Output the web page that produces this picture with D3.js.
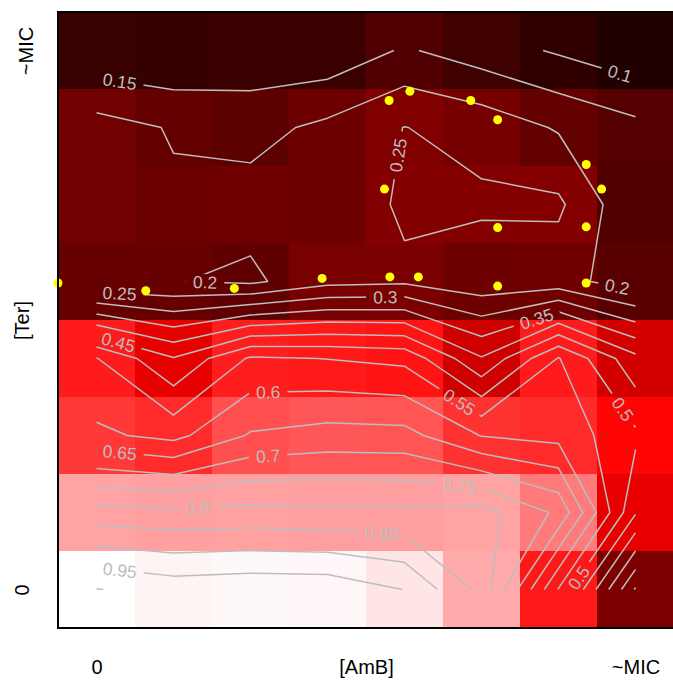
<!DOCTYPE html>
<html>
<head>
<meta charset="utf-8">
<script src="https://cdn.jsdelivr.net/npm/d3@7"></script>
<style>
  body { margin: 0; background: #ffffff; }
  svg { display: block; }
</style>
</head>
<body>
<svg id="chart" width="673" height="681"></svg>
<script>
// ---------------- data ----------------
// column index = AmB concentration step, row index = Ter concentration step
const ambSteps = [0, 1, 2, 3, 4, 5, 6, 7];
const terSteps = [0, 1, 2, 3, 4, 5, 6, 7];

// tick labels
const xTickValues = [0, 3.5, 7];
const xTickLabels = ["0", "[AmB]", "~MIC"];
const yTickValues = [0, 3.5, 7];
const yTickLabels = ["0", "[Ter]", "~MIC"];

// relative growth, one row per Ter step (Ter = 0 first, Ter ~MIC last),
// one value per AmB step
const terRow0 = [1.002, 0.979, 0.986, 0.984, 0.949, 0.835, 0.547, 0.245];
const terRow1 = [0.820, 0.812, 0.816, 0.810, 0.810, 0.820, 0.740, 0.455];
const terRow2 = [0.610, 0.585, 0.655, 0.670, 0.667, 0.598, 0.584, 0.510];
const terRow3 = [0.552, 0.453, 0.557, 0.549, 0.537, 0.404, 0.553, 0.414];
const terRow4 = [0.202, 0.202, 0.190, 0.235, 0.241, 0.215, 0.219, 0.173];
const terRow5 = [0.225, 0.208, 0.220, 0.215, 0.258, 0.259, 0.259, 0.157];
const terRow6 = [0.221, 0.196, 0.183, 0.212, 0.251, 0.232, 0.195, 0.164];
const terRow7 = [0.111, 0.102, 0.114, 0.113, 0.156, 0.124, 0.094, 0.064];
const growth = [terRow0, terRow1, terRow2, terRow3, terRow4, terRow5, terRow6, terRow7];

// contour levels
const contourLevels = [0.1, 0.15, 0.2, 0.25, 0.3, 0.35, 0.4, 0.45, 0.5,
                       0.55, 0.6, 0.65, 0.7, 0.75, 0.8, 0.85, 0.9, 0.95, 1.0];

// contour labels: level and approximate spot (in AmB / Ter step units)
const labelLevels = [0.1, 0.15, 0.2, 0.2, 0.25, 0.25, 0.3, 0.35, 0.45, 0.5, 0.55,
                     0.6, 0.65, 0.7, 0.75, 0.8, 0.85, 0.95, 0.5];
const labelAmB    = [6.80, 0.30, 6.76, 1.41, 3.92, 0.30, 3.75, 5.72, 0.28, 6.82, 4.69,
                     2.23, 0.30, 2.23, 4.72, 1.32, 3.71, 0.30, 6.25];
const labelTer    = [6.71, 6.59, 3.92, 3.98, 5.64, 3.85, 3.79, 3.50, 3.20, 2.33, 2.40,
                     2.56, 1.76, 1.72, 1.33, 1.06, 0.75, 0.23, 0.16];

// yellow observation points (AmB / Ter step units)
const pointAmB = [-0.50, 0.64, 1.79, 2.93, 4.07, 3.80, 4.86, 5.21, 3.74,
                  5.21, 6.36, 6.56, 6.36, 3.81, 4.18, 5.21, 6.36];
const pointTer = [3.98, 3.88, 3.91, 4.04, 6.47, 6.35, 6.35, 6.10, 5.20,
                  4.70, 5.52, 5.20, 4.71, 4.06, 4.06, 3.94, 3.98];

// ---------------- scales ----------------
const svg = d3.select("#chart");
const W = 673, H = 681;
const x = d3.scaleLinear().domain([-0.5, 7.5]).range([58, 674]);
const y = d3.scaleLinear().domain([-0.5, 7.5]).range([628, 12]);
const color = d3.scaleLinear().domain([0, 0.5, 1])
  .range(["#000000", "#ff0000", "#ffffff"]).clamp(true);

const FONT = "'Liberation Sans', Arial, Helvetica, sans-serif";
const LINE_COL = "#bdbdbd";

// ---------------- heatmap ----------------
const cells = [];
terSteps.forEach((t, r) => ambSteps.forEach((a, c) => cells.push({a, t, v: growth[r][c]})));
svg.append("g").selectAll("rect").data(cells).join("rect")
  .attr("x", d => x(d.a - 0.5))
  .attr("y", d => y(d.t + 0.5))
  .attr("width", d => x(d.a + 0.5) - x(d.a - 0.5))
  .attr("height", d => y(d.t - 0.5) - y(d.t + 0.5))
  .attr("fill", d => color(d.v))
  .attr("shape-rendering", "crispEdges");

// ---------------- contour lines (marching squares on cell centres) -------
function contourLines(z, level) {
  const nr = z.length, nc = z[0].length;
  const segs = [];
  const A = v => v >= level;
  for (let r = 0; r < nr - 1; r++) {
    for (let c = 0; c < nc - 1; c++) {
      const bl = z[r][c], br = z[r][c + 1], tr = z[r + 1][c + 1], tl = z[r + 1][c];
      const E = {};
      if (A(bl) !== A(br)) E.b = {k: "H" + r + "," + c, p: [ambSteps[c] + (level - bl) / (br - bl), terSteps[r]]};
      if (A(br) !== A(tr)) E.r = {k: "V" + r + "," + (c + 1), p: [ambSteps[c + 1], terSteps[r] + (level - br) / (tr - br)]};
      if (A(tl) !== A(tr)) E.t = {k: "H" + (r + 1) + "," + c, p: [ambSteps[c] + (level - tl) / (tr - tl), terSteps[r + 1]]};
      if (A(bl) !== A(tl)) E.l = {k: "V" + r + "," + c, p: [ambSteps[c], terSteps[r] + (level - bl) / (tl - bl)]};
      const ks = Object.keys(E);
      if (ks.length === 2) segs.push([E[ks[0]], E[ks[1]]]);
      else if (ks.length === 4) {
        const centre = A((bl + br + tr + tl) / 4);
        if (centre === A(br)) { segs.push([E.l, E.b]); segs.push([E.t, E.r]); }
        else { segs.push([E.b, E.r]); segs.push([E.t, E.l]); }
      }
    }
  }
  const byKey = new Map();
  segs.forEach((s, i) => s.forEach(e => {
    if (!byKey.has(e.k)) byKey.set(e.k, []);
    byKey.get(e.k).push(i);
  }));
  const used = new Array(segs.length).fill(false);
  const lines = [];
  function walk(si, from) {
    const pts = [segs[si][from].p];
    for (;;) {
      used[si] = true;
      const to = segs[si][1 - from];
      pts.push(to.p);
      const nxt = (byKey.get(to.k) || []).find(j => !used[j]);
      if (nxt === undefined) break;
      si = nxt;
      from = segs[si][0].k === to.k ? 0 : 1;
    }
    return pts;
  }
  segs.forEach((s, i) => {
    for (let e = 0; e < 2; e++) {
      if (!used[i] && byKey.get(s[e].k).length === 1) lines.push(walk(i, e));
    }
  });
  segs.forEach((s, i) => { if (!used[i]) lines.push(walk(i, 0)); });
  return lines;
}

function cumLengths(pl) {
  const cum = [0];
  for (let i = 1; i < pl.length; i++)
    cum.push(cum[i - 1] + Math.hypot(pl[i][0] - pl[i - 1][0], pl[i][1] - pl[i - 1][1]));
  return cum;
}
function pointAt(pl, cum, s) {
  s = Math.max(0, Math.min(cum[cum.length - 1], s));
  for (let i = 1; i < pl.length; i++) {
    if (s <= cum[i] || i === pl.length - 1) {
      const L = cum[i] - cum[i - 1];
      const t = L > 0 ? (s - cum[i - 1]) / L : 0;
      return [pl[i - 1][0] + t * (pl[i][0] - pl[i - 1][0]), pl[i - 1][1] + t * (pl[i][1] - pl[i - 1][1])];
    }
  }
  return pl[pl.length - 1];
}
function locate(lines, px, py) {
  let best = null;
  lines.forEach(pl => {
    const cum = cumLengths(pl);
    for (let i = 1; i < pl.length; i++) {
      const [x0, y0] = pl[i - 1], [x1, y1] = pl[i];
      const dx = x1 - x0, dy = y1 - y0, L2 = dx * dx + dy * dy;
      let t = L2 > 0 ? ((px - x0) * dx + (py - y0) * dy) / L2 : 0;
      t = Math.max(0, Math.min(1, t));
      const d = Math.hypot(px - (x0 + t * dx), py - (y0 + t * dy));
      if (!best || d < best.d) best = {d, pl, cum, s: cum[i - 1] + t * (cum[i] - cum[i - 1])};
    }
  });
  return best;
}

const defs = svg.append("defs");
const contourG = svg.append("g");
const labelG = svg.append("g");
const line = d3.line();
const FS = 17.5;

contourLevels.forEach((level, li) => {
  const lines = contourLines(growth, level)
    .map(pl => pl.map(([a, t]) => [x(a), y(t)]));
  if (!lines.length) return;
  const path = contourG.append("g");
  lines.forEach(pl => path.append("path")
    .attr("d", line(pl))
    .attr("fill", "none")
    .attr("stroke", LINE_COL)
    .attr("stroke-width", 1.5)
    .attr("stroke-linejoin", "round"));

  const idx = labelLevels.map((l, i) => Math.abs(l - level) < 1e-9 ? i : -1).filter(i => i >= 0);
  if (!idx.length) return;
  const mask = defs.append("mask").attr("id", "m" + li)
    .attr("maskUnits", "userSpaceOnUse")
    .attr("x", 0).attr("y", 0).attr("width", W).attr("height", H);
  mask.append("rect").attr("width", W).attr("height", H).attr("fill", "#fff");
  path.attr("mask", "url(#m" + li + ")");

  idx.forEach(i => {
    const txt = String(+level.toFixed(2));
    const tEl = labelG.append("text")
      .attr("font-family", FONT).attr("font-size", FS)
      .attr("fill", LINE_COL).attr("text-anchor", "middle")
      .attr("dy", "0.36em").text(txt);
    const w = tEl.node().getComputedTextLength();
    const loc = locate(lines, x(labelAmB[i]), y(labelTer[i]));
    const p1 = pointAt(loc.pl, loc.cum, loc.s - w / 2);
    const p2 = pointAt(loc.pl, loc.cum, loc.s + w / 2);
    let ang = Math.atan2(p2[1] - p1[1], p2[0] - p1[0]) * 180 / Math.PI;
    if (ang > 90) ang -= 180;
    if (ang <= -90) ang += 180;
    const cx = (p1[0] + p2[0]) / 2, cy = (p1[1] + p2[1]) / 2;
    tEl.attr("transform", `translate(${cx},${cy}) rotate(${ang})`);
    mask.append("rect")
      .attr("x", -w / 2 - 7).attr("y", -8).attr("width", w + 14).attr("height", 16)
      .attr("fill", "#000")
      .attr("transform", `translate(${cx},${cy}) rotate(${ang})`);
  });
});

// ---------------- points ----------------
svg.append("g").selectAll("circle").data(pointAmB.map((a, i) => [a, pointTer[i]])).join("circle")
  .attr("cx", d => x(d[0])).attr("cy", d => y(d[1])).attr("r", 4.5)
  .attr("fill", "#ffff00");

// ---------------- frame ----------------
svg.append("rect").attr("x", 58).attr("y", 12).attr("width", 616).attr("height", 616)
  .attr("fill", "none").attr("stroke", "#000").attr("stroke-width", 2);

// ---------------- axes ----------------
const xAxis = svg.append("g").attr("transform", "translate(0,628)")
  .call(d3.axisBottom(x).tickValues(xTickValues)
    .tickFormat((d, i) => xTickLabels[i]).tickSize(0).tickPadding(32));
xAxis.select(".domain").remove();
xAxis.selectAll("text").attr("font-family", FONT).attr("font-size", 20).attr("fill", "#000");

const yAxis = svg.append("g").attr("transform", "translate(58,0)")
  .call(d3.axisLeft(y).tickValues(yTickValues)
    .tickFormat((d, i) => yTickLabels[i]).tickSize(0));
yAxis.select(".domain").remove();
yAxis.selectAll("text")
  .attr("font-family", FONT).attr("font-size", 20).attr("fill", "#000")
  .attr("text-anchor", "middle")
  .attr("x", 0).attr("y", (d, i) => i === 2 ? -25 : -29).attr("dy", 0)
  .attr("transform", "rotate(-90)");
</script>
</body>
</html>
